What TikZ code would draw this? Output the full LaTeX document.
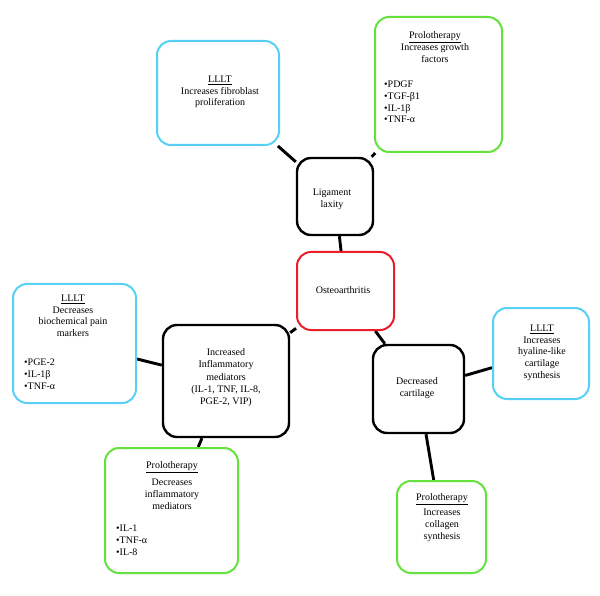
\documentclass[tikz,border=0pt]{standalone}
\usepackage{fontspec}
\setmainfont{Liberation Serif}
\usetikzlibrary{backgrounds}
\definecolor{cyanc}{RGB}{88,208,245}
\definecolor{greenc}{RGB}{100,225,60}
\definecolor{redc}{RGB}{232,30,40}
\newcommand{\fsA}{\fontsize{10}{11.7}\selectfont}
\newcommand{\fsB}{\fontsize{10}{12.3}\selectfont}
\tikzset{
  box/.style={rectangle, rounded corners=14pt, line width=2pt, fill=white, inner sep=0pt},
  cybox/.style={box, draw=cyanc},
  grbox/.style={box, draw=greenc},
  bkbox/.style={box, draw=black, line width=2.4pt},
  rdbox/.style={box, draw=redc},
  txt/.style={anchor=north, align=center, inner sep=0pt, font=\fsA, execute at begin node=\strut},
  txtb/.style={anchor=north, align=center, inner sep=0pt, font=\fsB, execute at begin node=\strut},
  lst/.style={anchor=north west, align=left, inner sep=0pt, font=\fsA, execute at begin node=\strut},
  lstb/.style={anchor=north west, align=left, inner sep=0pt, font=\fsB, execute at begin node=\strut},
  link/.style={line width=2.9pt, black}
}
\begin{document}
\begin{tikzpicture}[x=1pt,y=-1pt]
\useasboundingbox (0,0) rectangle (600,596);
% boxes
\node[cybox, minimum width=122pt, minimum height=104pt] (llltT) at (218,93) {};
\node[grbox, minimum width=127pt, minimum height=135pt] (proT) at (438.5,84.5) {};
\node[bkbox, minimum width=76pt, minimum height=77pt] (lig) at (335,196.5) {};
\node[rdbox, minimum width=97pt, minimum height=78pt] (osteo) at (345.5,291) {};
\node[cybox, minimum width=123pt, minimum height=119pt] (llltL) at (74.5,343.5) {};
\node[bkbox, minimum width=126pt, minimum height=112pt] (infl) at (226,381) {};
\node[cybox, minimum width=96pt, minimum height=91pt] (llltR) at (541,353.5) {};
\node[bkbox, minimum width=91pt, minimum height=88pt] (dec) at (418.5,389) {};
\node[grbox, minimum width=133pt, minimum height=125pt] (proL) at (171.5,510.5) {};
\node[grbox, minimum width=89pt, minimum height=92pt] (proR) at (441.5,527) {};
% texts
\node[txt] (llltT-t) at (220,75.8) {\underline{LLLT}\\Increases fibroblast\\proliferation};
\node[txt] (proT-t) at (435,31.8) {\underline{Prolotherapy}\\Increases growth\\factors};
\node[lst] (proT-l) at (384,80.8) {•PDGF\\•TGF-β1\\•IL-1β\\•TNF-α};
\node[txt] (lig-t) at (332,188.8) {Ligament\\laxity};
\node[txt] (osteo-t) at (343,284.8) {Osteoarthritis};
\node[txt] (llltL-t) at (73,294.8) {\underline{LLLT}\\Decreases\\biochemical pain\\markers};
\node[lst] (llltL-l) at (24,358.8) {•PGE-2\\•IL-1β\\•TNF-α};
\node[txtb] (infl-t) at (226,348.4) {Increased\\Inflammatory\\mediators\\(IL-1, TNF, IL-8,\\PGE-2, VIP)};
\node[txt] (proL-h) at (172,459.8) {\underline{Prolotherapy}};
\node[txtb] (proL-t) at (172,478.4) {Decreases\\inflammatory\\mediators};
\node[lstb] (proL-l) at (116,524.4) {•IL-1\\•TNF-α\\•IL-8};
\node[txt] (llltR-t) at (542,324.8) {\underline{LLLT}\\Increases\\hyaline-like\\cartilage\\synthesis};
\node[txt] (dec-t) at (417,377.8) {Decreased\\cartilage};
\node[txt] (proR-h) at (442,491.8) {\underline{Prolotherapy}};
\node[txtb] (proR-t) at (442,508.4) {Increases\\collagen\\synthesis};
% connectors
\begin{scope}[on background layer]
\fill[white] (0,0) rectangle (600,596);
\draw[link] (llltT) -- (lig);
\draw[link] (proT) -- (lig);
\draw[link] (lig) -- (osteo);
\draw[link] (osteo) -- (infl);
\draw[link] (osteo) -- (dec);
\draw[link] (llltL) -- (infl);
\draw[link] (infl) -- (proL);
\draw[link] (dec) -- (llltR);
\draw[link] (dec) -- (proR);
\end{scope}
\end{tikzpicture}
\end{document}
